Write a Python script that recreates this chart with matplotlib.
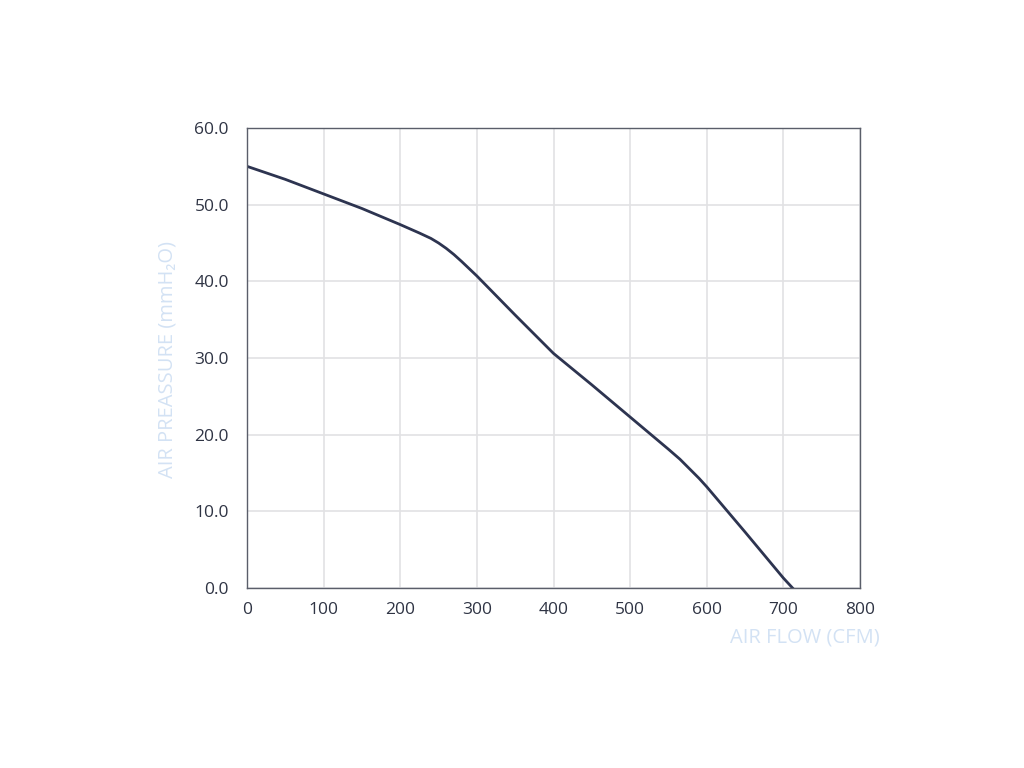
import matplotlib
matplotlib.use("Agg")
import matplotlib.pyplot as plt
import numpy as np

airflow = [0, 50, 100, 150, 200, 225, 240, 250, 260, 270, 280, 300, 350, 400, 450, 500, 550, 565, 575, 590, 600, 650, 700, 712]
pressure = [55.0, 53.3, 51.4, 49.5, 47.4, 46.3, 45.6, 45.0, 44.3, 43.5, 42.6, 40.7, 35.6, 30.6, 26.5, 22.3, 18.1, 16.8, 15.8, 14.3, 13.2, 7.3, 1.3, 0.0]
xticks = [0, 100, 200, 300, 400, 500, 600, 700, 800]
yticks = [0, 10, 20, 30, 40, 50, 60]

plt.rcParams['font.family'] = ['Open Sans', 'DejaVu Sans']

fig = plt.figure(figsize=(10.24, 7.68), dpi=100)
ax = fig.add_axes([247/1024, 1-588/768, (860-247)/1024, (588-128)/768])

ax.plot(airflow, pressure, color='#2d3450', lw=2.0, solid_joinstyle='round')
ax.set_xlim(0, 800)
ax.set_ylim(0, 60)
ax.set_xticks(xticks)
ax.set_yticks(yticks)
ax.set_yticklabels([f"{v:.1f}" for v in yticks])
ax.grid(True, color='#e2e2e4', lw=1.2)
ax.set_axisbelow(True)
for s in ax.spines.values():
    s.set_color('#5a5e6a')
    s.set_linewidth(1.0)
ax.tick_params(length=0, labelsize=12.5, colors='#2f3444')
ax.tick_params(axis='y', pad=13)
ax.tick_params(axis='x', pad=10)
for lbl in ax.get_xticklabels() + ax.get_yticklabels():
    lbl.set_fontweight('medium')

fig.text(167/1024, 1-359/768, 'AIR PREASSURE (mmH₂O)', rotation=90, ha='center', va='center',
         color='#d3e2f4', fontsize=14.5, fontweight='medium')
fig.text(880/1024, 1-638/768, 'AIR FLOW (CFM)', ha='right', va='center',
         color='#d3e2f4', fontsize=14.5, fontweight='medium')

fig.savefig('out.png', dpi=100)
